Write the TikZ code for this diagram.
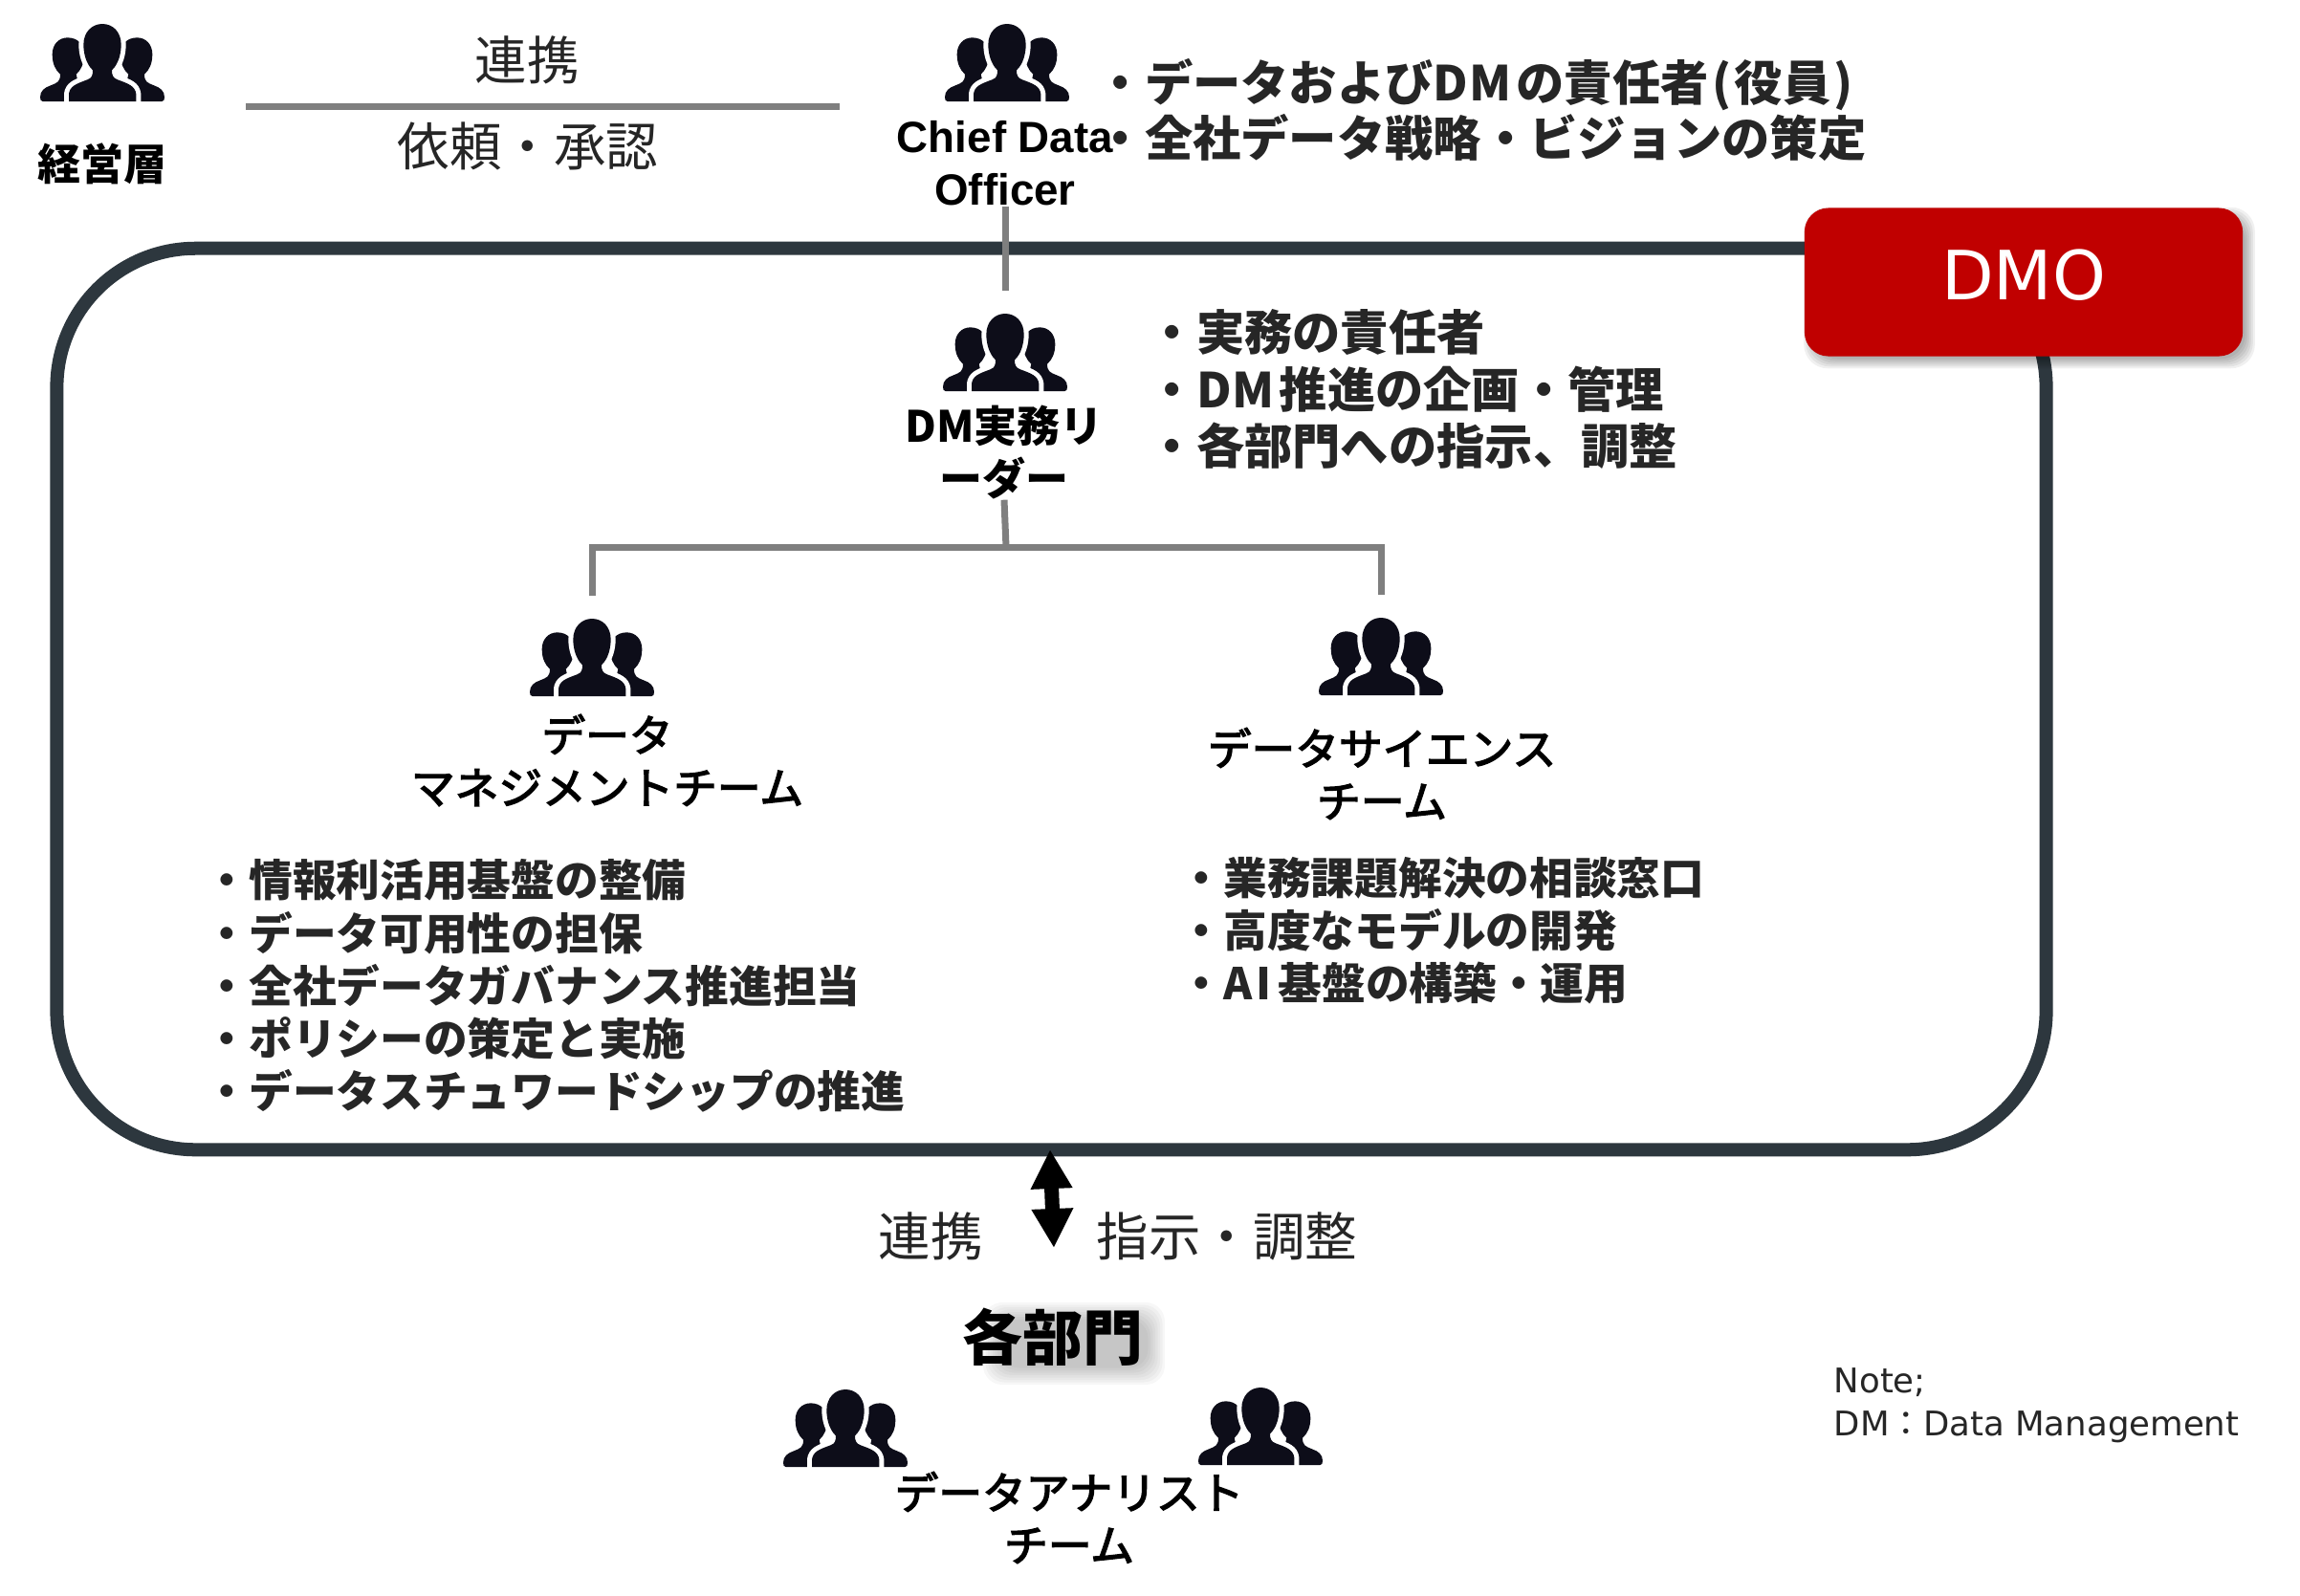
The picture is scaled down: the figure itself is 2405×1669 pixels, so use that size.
\documentclass[tikz,border=0pt]{standalone}
\usepackage{fontspec}
\setmainfont{Noto Sans CJK JP}
\newfontfamily\notefont{DejaVu Sans}
\newfontfamily\arialfont{Liberation Sans}
\newfontfamily\medfont{Noto Sans CJK JP}[RawFeature={embolden=3}]
\usepackage{xcolor}
\usetikzlibrary{arrows.meta, calc}
\definecolor{framegray}{RGB}{45, 55, 62}
\definecolor{linkgray}{RGB}{127, 127, 127}
\definecolor{iconblack}{RGB}{13, 13, 25}
\definecolor{dmored}{RGB}{192, 0, 0}
\definecolor{thintext}{RGB}{38, 38, 38}

\tikzset{
    people/.pic={
        \begin{scope}[scale=0.3333, shift={(-237,-323)}]
            % Side persons
            \foreach \m/\o in {1/0, -1/474} {
                \fill[iconblack, xshift=\o cm*0.01, xscale=\m]
                    (150,323) -- (50,323) .. controls (44,323) and (42,318) .. (42,310)
                    .. controls (42,290) and (55,280) .. (75,273)
                    .. controls (95,265) and (105,262) .. (105,238)
                    .. controls (90,225) and (80,205) .. (80,175)
                    .. controls (80,145) and (100,123) .. (128,123)
                    .. controls (160,123) and (180,145) .. (180,175)
                    .. controls (180,205) and (170,225) .. (155,238)
                    -- (175,323) -- cycle;
            }
            % Front person
            \fill[iconblack, preaction={draw=white, line width=0.1cm}]
                (132,323) -- (132,300) .. controls (135,275) and (155,268) .. (190,255)
                .. controls (205,250) and (207,240) .. (207,225)
                .. controls (185,205) and (178,170) .. (178,145)
                .. controls (178,105) and (205,80) .. (237,80)
                .. controls (270,80) and (296,105) .. (296,145)
                .. controls (296,170) and (289,205) .. (267,225)
                .. controls (267,240) and (270,250) .. (285,255)
                .. controls (320,268) and (340,275) .. (343,300)
                -- (343,323) -- cycle;
        \end{scope}
        \coordinate (-top) at (0,-105);
    }
}

\begin{document}
\begin{tikzpicture}[
    x=0.01cm, y=-0.01cm,
    frame/.style={draw=framegray, line width=0.14cm, rounded corners=1.45cm, minimum width=20.79cm, minimum height=9.42cm},
    dmobox/.style={fill=dmored, rounded corners=0.25cm, minimum width=4.58cm, minimum height=1.55cm, text=white, font=\notefont\fontsize{20.2pt}{25pt}\selectfont},
    link/.style={draw=linkgray, line width=0.07cm},
    twoway/.style={{Triangle[width=0.41cm, length=0.41cm]}-{Triangle[width=0.41cm, length=0.41cm]}, line width=0.15cm, black},
    caption/.style={inner sep=0pt, align=center, font=\fontsize{12.8pt}{15.6pt}\selectfont\bfseries},
    teamlabel/.style={inner sep=0pt, align=center, font=\medfont\fontsize{13pt}{15.6pt}\selectfont},
    duties/.style={inner sep=0pt, align=left, text=thintext, font=\fontsize{14.3pt}{17pt}\selectfont\bfseries},
    smallduties/.style={inner sep=0pt, align=left, text=thintext, font=\fontsize{13pt}{15.7pt}\selectfont\bfseries},
    relation/.style={inner sep=0pt, text=thintext, font=\fontsize{15.5pt}{18pt}\selectfont}
]
    \useasboundingbox (0,0) rectangle (2405,1669);

    % DMO frame
    \node[frame] (dmoframe) at (1099.5,731) {};

    % DMO tag
    \node[minimum width=4.58cm, minimum height=1.55cm, inner sep=0pt] (dmoshape) at (2116,295) {};
    \foreach \s in {0,2,...,10} {
        \fill[black, opacity=0.06, rounded corners=0.25cm]
            ($(dmoshape.north west)+(10-\s,10-\s)$) rectangle ($(dmoshape.south east)+(2+\s,2+\s)$);
    }
    \node[dmobox] (dmo) at (2116,295) {\raisebox{0.15cm}{DMO}};

    % Top row
    \pic (board) at (107,106) {people};
    \node[caption] (boardlabel) at (107,171) {経営層};
    \coordinate (linkleft) at (257,111);
    \coordinate (linkright) at (878,111);
    \draw[link] (linkleft) -- (linkright);
    \node[relation] (boardup) at (551,63) {連携};
    \node[relation] (boarddown) at (552,153) {依頼・承認};
    \pic (cdo) at (1053,106) {people};
    \node[caption, font=\arialfont\fontsize{13pt}{15.6pt}\selectfont\bfseries] (cdolabel) at (1051,171) {Chief Data\\Officer};
    \node[duties, anchor=west, font=\fontsize{14.3pt}{16.5pt}\selectfont\bfseries] (cdoduties) at (1146,115) {・データおよびD\kern.02em M\kern.1em の責任者\kern.08em(\kern.06em 役員\kern.06em)\\・全社データ戦略・ビジョンの策定};

    % DM leader
    \pic (leader) at (1051,409) {people};
    \node[caption] (leaderlabel) at (1050,473) {DM実務リ\\ーダー};
    \node[duties, anchor=west] (leaderduties) at (1200,407) {・実務の責任者\\・D\kern.02em M\kern.1em 推進の企画・管理\\・各部門への指示、調整};
    \draw[link] (cdolabel.south) -- (leader-top);

    % Teams
    \pic (mgmt) at (619,728) {people};
    \node[teamlabel] (mgmtlabel) at (635,795) {データ\\マネジメントチーム};
    \node[smallduties, anchor=west] (mgmtduties) at (214,1031) {・情報利活用基盤の整備\\・データ可用性の担保\\・全社データガバナンス推進担当\\・ポリシーの策定と実施\\・データスチュワードシップの推進};
    \pic (science) at (1444,727) {people};
    \node[teamlabel] (sciencelabel) at (1445,809) {データサイエンス\\チーム};
    \node[smallduties, anchor=west] (scienceduties) at (1233,973) {・業務課題解決の相談窓口\\・高度なモデルの開発\\・A\kern.08em I\kern.16em 基盤の構築・運用};

    % Tree from leader
    \coordinate (fork) at (1052,572);
    \draw[link] (leaderlabel.south) -- (fork);
    \draw[link] (mgmt-top) |- (fork) -| (science-top);

    % Departments
    \coordinate (arrowtop) at (1098,1202);
    \coordinate (arrowbottom) at (1102,1305);
    \draw[twoway] (arrowtop) -- (arrowbottom);
    \node[relation] (deptup) at (973,1293) {連携};
    \node[relation] (deptdown) at (1283,1293) {指示・調整};
    \foreach \s in {0,1,...,7} {
        \fill[black, opacity=0.03, rounded corners=0.2cm]
            (1028+2.5*\s,1362+2.5*\s) rectangle (1218-2.5*\s,1448-2.5*\s);
    }
    \node[inner sep=0pt, font=\fontsize{17.9pt}{21pt}\selectfont\bfseries] (dept) at (1101,1398) {各部門};
    \pic (analystA) at (884,1534) {people};
    \pic (analystB) at (1318,1532) {people};
    \node[teamlabel] (analystlabel) at (1118,1587) {データアナリスト\\チーム};

    % Note
    \node[inner sep=0pt, anchor=north west, align=left, text=thintext, font=\notefont\fontsize{10.1pt}{12.65pt}\selectfont] (note) at (1917,1430) {Note;\\DM{\fontspec{Noto Sans CJK JP}：}Data Management};
\end{tikzpicture}
\end{document}
